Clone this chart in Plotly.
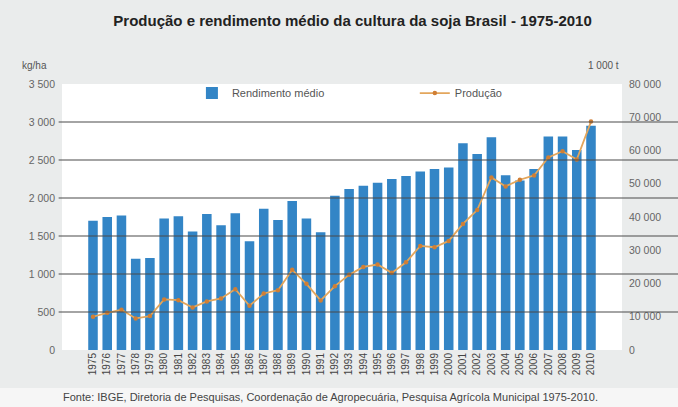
import plotly.graph_objects as go

years = [str(y) for y in range(1975, 2011)]
rendimento = [1700, 1750, 1770, 1200, 1210, 1730, 1760, 1560, 1790, 1640,
              1800, 1430, 1860, 1710, 1960, 1730, 1550, 2030, 2120, 2160,
              2200, 2250, 2290, 2350, 2380, 2400, 2720, 2580, 2800, 2300,
              2230, 2380, 2810, 2810, 2630, 2950]
producao = [10000, 11200, 12100, 9500, 10200, 15200, 15000, 12800, 14600, 15500,
            18300, 13300, 17000, 18000, 24100, 19900, 14900, 19200, 22600, 25000,
            25700, 23200, 26400, 31300, 30900, 32800, 37900, 42100, 51900, 49200,
            51200, 52500, 57900, 59800, 57300, 68700]
left_ticks = [0, 500, 1000, 1500, 2000, 2500, 3000, 3500]
left_text = ["0", "500", "1 000", "1 500", "2 000", "2 500", "3 000", "3 500"]
right_ticks = [0, 10000, 20000, 30000, 40000, 50000, 60000, 70000, 80000]
right_text = ["0", "10 000", "20 000", "30 000", "40 000", "50 000", "60 000", "70 000", "80 000"]

FONT = "Liberation Sans, Arial, sans-serif"
NARROW = "Liberation Sans Narrow, Arial Narrow, Liberation Sans, sans-serif"

fig = go.Figure()
fig.add_trace(go.Bar(x=years, y=rendimento, name="Rendimento médio", legend="legend",
                     marker=dict(color="#3385c6", line=dict(width=0))))
fig.add_trace(go.Scatter(x=years, y=producao, name="Produção", yaxis="y2", legend="legend2",
                         mode="lines+markers",
                         line=dict(color="#e3a65c", width=1.8),
                         marker=dict(color="#d07f35", size=4.5, symbol="circle")))

shapes = [dict(type="rect", xref="paper", yref="paper", x0=-0.2, x1=1.2,
               y0=-0.215, y1=-0.143, fillcolor="#f6f6f6", line=dict(width=0),
               layer="below")]
for v in left_ticks[1:-1]:
    shapes.append(dict(type="line", xref="paper", yref="y", x0=-0.006, x1=1.12,
                       y0=v, y1=v, line=dict(color="#4a4a4a", width=1.2),
                       layer="above"))

legend_common = dict(orientation="h", xanchor="left", yanchor="middle",
                     bgcolor="rgba(0,0,0,0)", font=dict(size=11, color="#555555",
                                                         family=NARROW))

fig.update_layout(
    width=678, height=407,
    margin=dict(l=62, r=56, t=84, b=57),
    paper_bgcolor="#eaecec", plot_bgcolor="#ffffff",
    font=dict(family=FONT, color="#555555", size=10),
    title=dict(text="<b>Produção e rendimento médio da cultura da soja Brasil - 1975-2010</b>",
               x=0.52, xanchor="center", y=0.95, yanchor="middle",
               font=dict(size=15, color="#222222", family=NARROW)),
    bargap=0.33,
    showlegend=True,
    legend=dict(x=0.232, y=0.966, **legend_common),
    legend2=dict(x=0.63, y=0.966, **legend_common),
    xaxis=dict(type="category", tickangle=-90,
               tickfont=dict(size=10, color="#444444", family=NARROW),
               showgrid=False, ticks="", showline=False),
    yaxis=dict(range=[0, 3500], tickvals=left_ticks, ticktext=left_text,
               showgrid=False, zeroline=False,
               tickfont=dict(size=10.5, color="#666666", family=NARROW),
               ticks="", ticklabelstandoff=6),
    yaxis2=dict(range=[0, 80000], overlaying="y", side="right", tickvals=right_ticks,
                ticktext=right_text, showgrid=False, zeroline=False,
                tickfont=dict(size=10.5, color="#666666", family=NARROW),
                ticklabelstandoff=6),
    shapes=shapes,
    annotations=[
        dict(text="kg/ha", xref="paper", yref="paper", x=-0.075, y=1.07,
             xanchor="left", yanchor="middle", showarrow=False,
             font=dict(size=10, color="#555555", family=NARROW)),
        dict(text="1 000 t", xref="paper", yref="paper", x=0.935, y=1.07,
             xanchor="left", yanchor="middle", showarrow=False,
             font=dict(size=10, color="#555555", family=NARROW)),
        dict(text="Fonte: IBGE, Diretoria de Pesquisas, Coordenação de Agropecuária, Pesquisa Agrícola Municipal 1975-2010.",
             xref="paper", yref="paper", x=0.48, y=-0.177, xanchor="center",
             yanchor="middle", showarrow=False,
             font=dict(size=11, color="#444444", family=NARROW)),
    ],
)

fig.write_html("out.html")
